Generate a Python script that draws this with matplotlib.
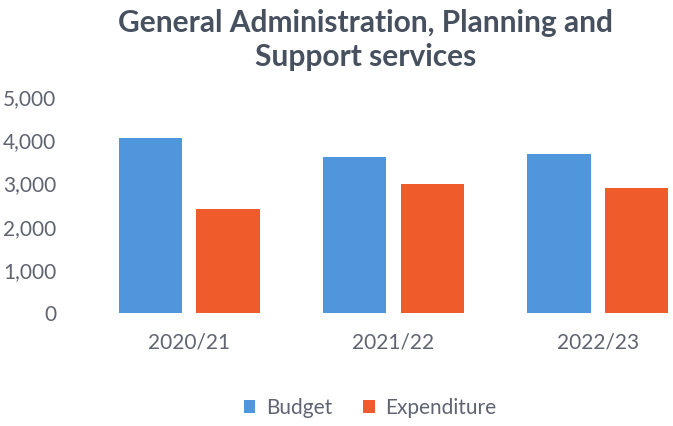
import matplotlib.pyplot as plt
import numpy as np

years = ['2020/21', '2021/22', '2022/23']
budget = [4050, 3610, 3680]
expenditure = [2400, 2990, 2900]

plt.rcParams['font.family'] = ['Lato', 'DejaVu Sans']

fig = plt.figure(figsize=(6.73, 4.26), dpi=100)
# the photo crops the chart on the right, so the axes run past the figure edge
ax = fig.add_axes([87/673, 113/426, 613/673, 216/426])

x = np.arange(len(years))
w = 0.31
ax.bar(x - 0.19, budget, w, color='#4f96dc', label='Budget')
ax.bar(x + 0.19, expenditure, w, color='#ef5b2b', label='Expenditure')

ax.set_xlim(-0.5, 2.5)
ax.set_ylim(0, 5000)
ax.set_yticks(range(0, 5001, 1000))
ax.set_yticklabels(['{:,}'.format(v) for v in range(0, 5001, 1000)])
ax.set_xticks(x)
ax.set_xticklabels(years)
ax.tick_params(axis='y', length=0, pad=22, labelsize=15, labelcolor='#5f6470')
ax.tick_params(axis='x', length=0, pad=14, labelsize=15, labelcolor='#5f6470')
for s in ax.spines.values():
    s.set_visible(False)

fig.text(0.543, 0.98, 'General Administration, Planning and\nSupport services',
         ha='center', va='top', fontsize=21.5, fontweight='bold',
         color='#46505e', linespacing=1.3)

fig.legend(loc='center', bbox_to_anchor=(0.55, 0.042), ncol=2, frameon=False,
           fontsize=15, handlelength=0.55, handleheight=0.55, handletextpad=0.5,
           columnspacing=1.5, labelcolor='#5f6470')

plt.savefig('out.png', dpi=100)
